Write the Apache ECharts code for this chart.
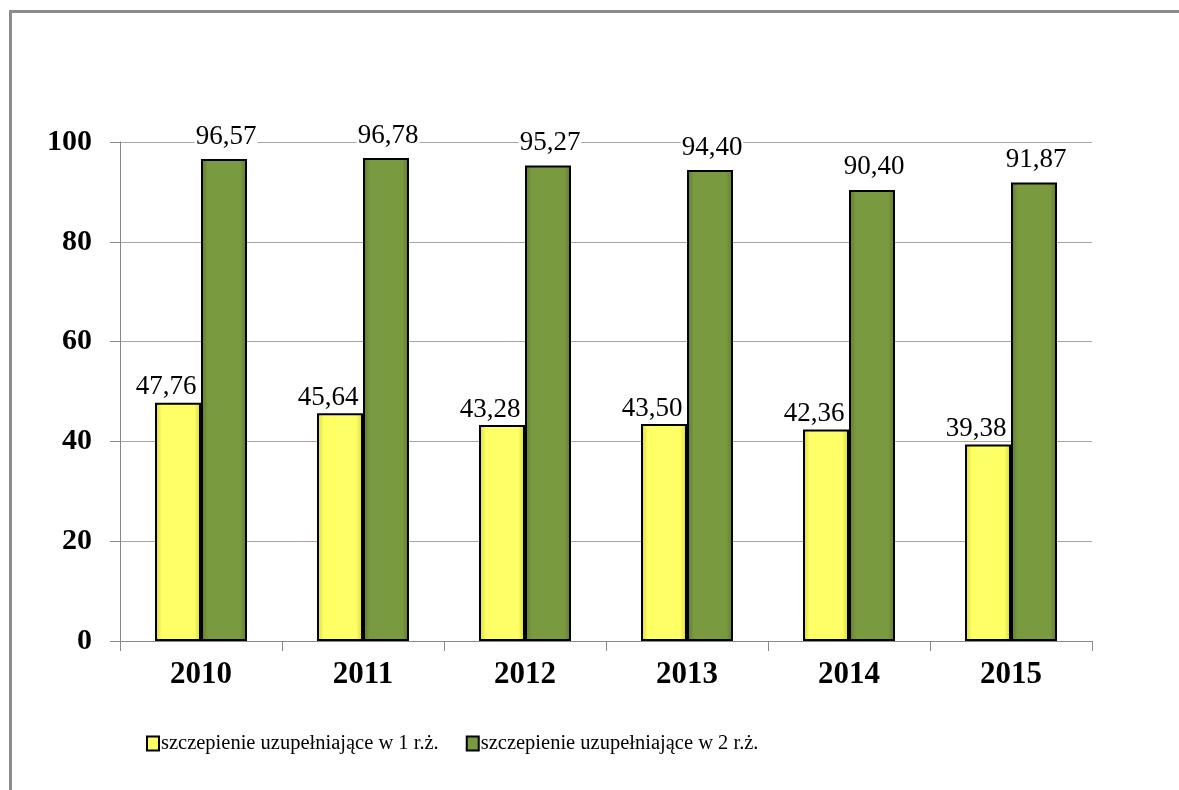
<!DOCTYPE html>
<html>
<head>
<meta charset="utf-8">
<script src="https://cdn.jsdelivr.net/npm/echarts@6/dist/echarts.min.js"></script>
<style>
  html, body { margin: 0; padding: 0; background: #fff; }
  #frame {
    position: absolute; left: 9px; top: 10px; width: 1200px; height: 800px;
    border-left: 3px solid #8c8c8c; border-top: 3px solid #8c8c8c;
  }
  #chart { position: absolute; left: 0; top: 0; width: 1179px; height: 790px; }
</style>
</head>
<body>
<div id="frame"></div>
<div id="chart"></div>
<script>
// dane z wykresu
const years = ['2010', '2011', '2012', '2013', '2014', '2015'];
const dose1 = [47.76, 45.64, 43.28, 43.50, 42.36, 39.38];
const dose2 = [96.57, 96.78, 95.27, 94.40, 90.40, 91.87];
const seriesNames = ['szczepienie uzupełniające w 1 r.ż.', 'szczepienie uzupełniające w 2 r.ż.'];
const yTicks = { min: 0, max: 100, step: 20 };

const serif = '"Liberation Serif", "Times New Roman", serif';

function bevel(edge, mid) {
    return new echarts.graphic.LinearGradient(0, 0, 1, 0, [
        { offset: 0, color: edge },
        { offset: 0.15, color: mid },
        { offset: 0.85, color: mid },
        { offset: 1, color: edge }
    ]);
}

function fmt(v) {
    return v.toFixed(2).replace('.', ',');
}

const myChart = echarts.init(document.getElementById('chart'), null, { renderer: 'canvas' });

const labelBase = {
    show: true,
    position: 'top',
    color: '#000',
    fontFamily: serif,
    fontSize: 27,
    backgroundColor: '#fff',
    padding: [0, 1, -3, 1],
    formatter: p => fmt(p.value)
};

myChart.setOption({
    animation: false,
    backgroundColor: 'transparent',
    grid: { left: 120, right: 87, top: 142, bottom: 149 },
    legend: {
        left: 141,
        top: 728,
        icon: 'rect',
        itemWidth: 12,
        itemHeight: 14,
        itemGap: 27,
        textStyle: { fontFamily: serif, fontSize: 20.5, color: '#000', padding: [0, 0, 0, -3] },
        data: seriesNames
    },
    xAxis: {
        type: 'category',
        data: years,
        axisLine: { lineStyle: { color: '#888', width: 1 } },
        axisTick: { show: true, length: 10, lineStyle: { color: '#888' } },
        axisLabel: {
            margin: 18,
            fontFamily: serif,
            fontSize: 31,
            fontWeight: 'bold',
            color: '#000'
        }
    },
    yAxis: {
        type: 'value',
        min: yTicks.min,
        max: yTicks.max,
        interval: yTicks.step,
        axisLine: { show: true, lineStyle: { color: '#888', width: 1 } },
        axisTick: { show: true, length: 10, lineStyle: { color: '#888' } },
        splitLine: { lineStyle: { color: '#a6a6a6', width: 1 } },
        axisLabel: {
            margin: 28,
            fontFamily: serif,
            fontSize: 30,
            fontWeight: 'bold',
            color: '#000'
        }
    },
    series: [
        {
            name: seriesNames[0],
            type: 'bar',
            barWidth: 46,
            barGap: '0%',
            data: dose1,
            itemStyle: {
                color: bevel('#d8d83a', '#ffff66'),
                borderColor: '#000',
                borderWidth: 2
            },
            label: Object.assign({}, labelBase, { offset: [-12, 0], distance: 5 }),
            z: 3
        },
        {
            name: seriesNames[1],
            type: 'bar',
            barWidth: 46,
            barGap: '0%',
            data: dose2,
            itemStyle: {
                color: bevel('#5f7a2c', '#7a9a40'),
                borderColor: '#000',
                borderWidth: 2
            },
            label: Object.assign({}, labelBase, { offset: [2, 0], distance: 12 }),
            z: 2
        }
    ]
});
</script>
</body>
</html>
